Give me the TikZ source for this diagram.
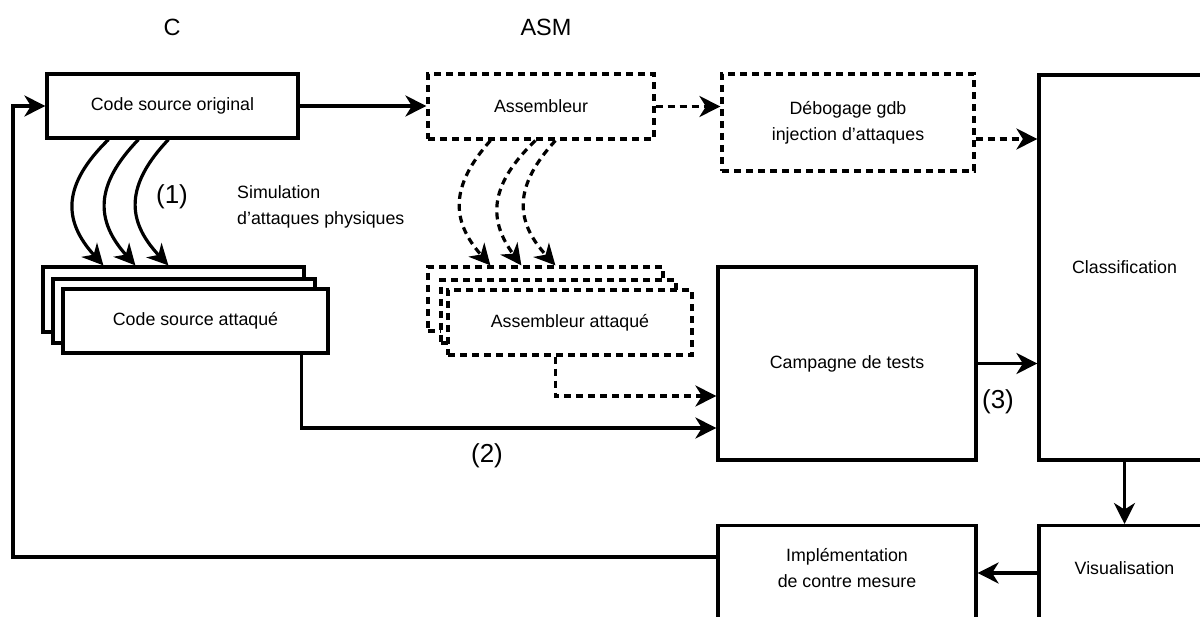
\documentclass[tikz,border=0pt]{standalone}
\usepackage{fontspec}
\setmainfont{Liberation Sans}
\usetikzlibrary{arrows.meta,calc}
\begin{document}
\begin{tikzpicture}[x=1pt,y=-1pt,
  lw/.style={line width=3.2pt},
  box/.style={draw, lw, fill=white, rectangle, inner sep=0pt, align=center, font=\fontsize{17.8}{26}\selectfont},
  dbox/.style={box, dash pattern=on 7pt off 5pt},
  arr/.style={lw, -{Stealth[length=21pt,width=21pt,inset=6.5pt]}},
  darr/.style={arr, dash pattern=on 7pt off 5pt},
  lbl/.style={inner sep=0pt, font=\fontsize{17.8}{26}\selectfont},
  big/.style={inner sep=0pt, font=\fontsize{26}{30}\selectfont},
  head/.style={inner sep=0pt, font=\fontsize{23.5}{28}\selectfont}]
\useasboundingbox (0,0) rectangle (1200,617);
\clip (0,0) rectangle (1200,617);

% headings and labels
\node[head] (lc) at (172,27) {C};
\node[head] (lasm) at (546,27) {ASM};
\node[big] (l1) at (172,197) {(1)};
\node[lbl, align=left, anchor=west] (sim) at (237,207) {Simulation\\d’attaques physiques};
\node[big] (l2) at (487,456) {(2)};
\node[big] (l3) at (998,402) {(3)};

% main boxes
\node[box, minimum width=251pt, minimum height=64pt] (orig) at (172.5,106) {Code source original};
\node[dbox, minimum width=226pt, minimum height=65pt] (asm) at (541,106.5) {Assembleur};
\node[dbox, minimum width=252pt, minimum height=97pt] (deb) at (848,122.5) {Débogage gdb\\injection d’attaques};
\node[box, minimum width=171pt, minimum height=385pt] (cls) at (1124.5,267.5) {Classification};
\node[box, minimum width=258pt, minimum height=193pt] (camp) at (847,363.5) {Campagne de tests};
\node[box, minimum width=171pt, minimum height=110pt, anchor=north] (vis) at (1124.5,524) {};
\node[lbl] (vist) at (1124.5,568) {Visualisation};
\node[box, minimum width=258pt, minimum height=110pt, anchor=north] (impl) at (847,524) {};
\node[lbl, align=center] (implt) at (847,568.5) {Implémentation\\de contre mesure};

% stacked attacked source
\node[box, minimum width=261pt, minimum height=65pt] (csa1) at (173.5,299.5) {};
\node[box, minimum width=262pt, minimum height=64pt] (csa2) at (184,311) {};
\node[box, minimum width=265pt, minimum height=64pt] (csa3) at (195.5,321) {Code source attaqué};

% stacked attacked assembler
\node[dbox, minimum width=235pt, minimum height=64pt] (asa1) at (545.5,299) {};
\node[dbox, minimum width=235pt, minimum height=63pt] (asa2) at (558.5,311.5) {};
\node[dbox, minimum width=244pt, minimum height=65pt] (asa3) at (570,322.5) {Assembleur attaqué};

% connectors
\coordinate (fb) at (13,106);
\coordinate (ib) at ($(impl.north west)+(0,33)$);
\draw[arr] (ib) -| (fb) -- (orig.west);
\draw[arr] (orig.east) -- (orig.east -| asm.west);
\draw[darr] (asm.east) -- (asm.east -| deb.west);
\coordinate (d1) at ($(deb.east)+(0,16.5)$);
\draw[darr] (d1) -- (d1 -| cls.west);
\draw[arr] (camp.east) -- (camp.east -| cls.west);
\draw[arr] (cls.south) -- (vis.north);
\coordinate (v1) at ($(vis.north west)+(0,49)$);
\draw[arr] (v1) -- (v1 -| impl.east);
\coordinate (c2s) at ($(csa3.south west)+(240,0)$);
\coordinate (c2e) at ($(camp.west)+(0,64.5)$);
\draw[arr] (c2s) |- (c2e);
\coordinate (a2s) at ($(asa3.south west)+(109,0)$);
\coordinate (a2e) at ($(camp.west)+(0,32.5)$);
\draw[darr] (a2s) |- (a2e);

% curved attack arrows (solid)
\coordinate (s1) at ($(orig.south west)+(63,0)$);
\coordinate (s2) at ($(orig.south west)+(93,0)$);
\coordinate (s3) at ($(orig.south west)+(123,0)$);
\coordinate (e1) at ($(csa1.north west)+(62,0)$);
\coordinate (e2) at ($(csa1.north west)+(94,0)$);
\coordinate (e3) at ($(csa1.north west)+(127,0)$);
\draw[arr] (s1) .. controls +(-46,45) and +(-41,-45) .. (e1);
\draw[arr] (s2) .. controls +(-43.5,45) and +(-40.5,-45) .. (e2);
\draw[arr] (s3) .. controls +(-42.7,45) and +(-42.7,-45) .. (e3);

% curved attack arrows (dashed)
\coordinate (t1) at ($(asm.south west)+(64,0)$);
\coordinate (t2) at ($(asm.south west)+(109,0)$);
\coordinate (t3) at ($(asm.south west)+(129,0)$);
\coordinate (f1) at ($(asa1.north west)+(64,0)$);
\coordinate (f2) at ($(asa1.north west)+(95,0)$);
\coordinate (f3) at ($(asa1.north west)+(129,0)$);
\draw[darr] (t1) .. controls +(-40,45) and +(-40,-45) .. (f1);
\draw[darr] (t2) .. controls +(-47,45) and +(-33,-45) .. (f2);
\draw[darr] (t3) .. controls +(-41.3,45) and +(-41.3,-45) .. (f3);
\end{tikzpicture}
\end{document}
